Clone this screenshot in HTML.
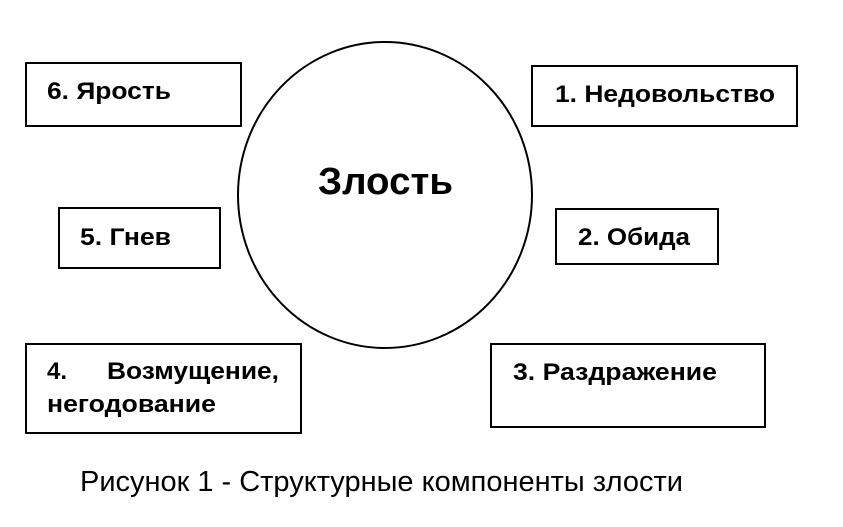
<!DOCTYPE html>
<html><head><meta charset="utf-8"><style>
html,body{margin:0;padding:0;background:#fff;}
svg{display:block;}
text{font-family:"Liberation Sans",Arial,sans-serif;fill:#000;}
.b{font-weight:bold;font-size:24px;}
</style></head><body>
<svg width="843" height="527" viewBox="0 0 843 527" xmlns="http://www.w3.org/2000/svg">
<g fill="none" stroke="#000" stroke-width="2">
<rect x="26" y="63" width="215" height="63"/>
<rect x="532" y="66" width="265" height="60"/>
<rect x="59" y="208" width="161" height="60"/>
<rect x="556" y="209" width="162" height="55"/>
<rect x="26" y="344" width="275" height="89"/>
<rect x="491" y="344" width="274" height="83"/>
<ellipse cx="385" cy="195" rx="147" ry="153"/>
</g>
<text x="318" y="194" font-weight="bold" font-size="38" textLength="135" lengthAdjust="spacingAndGlyphs">Злость</text>
<text class="b" x="47" y="99" textLength="124" lengthAdjust="spacingAndGlyphs">6. Ярость</text>
<text class="b" x="555" y="102" textLength="220" lengthAdjust="spacingAndGlyphs">1. Недовольство</text>
<text class="b" x="80" y="245" textLength="91" lengthAdjust="spacingAndGlyphs">5. Гнев</text>
<text class="b" x="578" y="245" textLength="112" lengthAdjust="spacingAndGlyphs">2. Обида</text>
<text class="b" x="47" y="379">4.</text>
<text class="b" x="107" y="379" textLength="172" lengthAdjust="spacingAndGlyphs">Возмущение,</text>
<text class="b" x="47" y="412" textLength="169" lengthAdjust="spacingAndGlyphs">негодование</text>
<text class="b" x="513" y="380" textLength="204" lengthAdjust="spacingAndGlyphs">3. Раздражение</text>
<text x="80" y="491" font-size="29" textLength="603" lengthAdjust="spacingAndGlyphs">Рисунок 1 - Структурные компоненты злости</text>
</svg>
</body></html>
